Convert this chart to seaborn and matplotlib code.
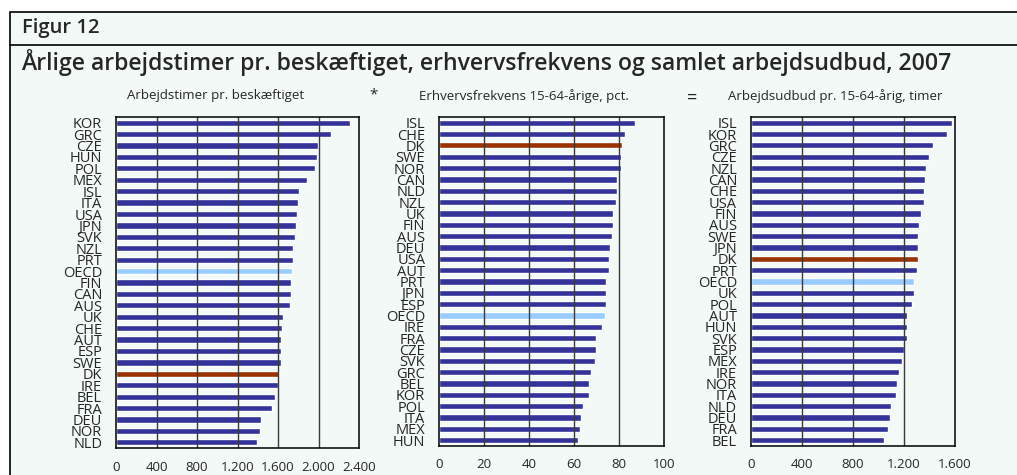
import matplotlib
matplotlib.use("Agg")
import matplotlib.pyplot as plt
import matplotlib.ticker as ticker
from matplotlib.patches import Rectangle
from matplotlib.lines import Line2D
import seaborn as sns
import pandas as pd

# data
timer_lande = ["KOR", "GRC", "CZE", "HUN", "POL", "MEX", "ISL", "ITA", "USA", "JPN",
               "SVK", "NZL", "PRT", "OECD", "FIN", "CAN", "AUS", "UK", "CHE", "AUT",
               "ESP", "SWE", "DK", "IRE", "BEL", "FRA", "DEU", "NOR", "NLD"]
timer_vaerdi = [2311, 2120, 1992, 1990, 1966, 1884, 1808, 1798, 1788, 1778,
                1769, 1749, 1749, 1739, 1729, 1729, 1719, 1650, 1640, 1630,
                1630, 1630, 1611, 1601, 1571, 1542, 1433, 1423, 1394]

erhv_lande = ["ISL", "CHE", "DK", "SWE", "NOR", "CAN", "NLD", "NZL", "UK", "FIN",
              "AUS", "DEU", "USA", "AUT", "PRT", "JPN", "ESP", "OECD", "IRE", "FRA",
              "CZE", "SVK", "GRC", "BEL", "KOR", "POL", "ITA", "MEX", "HUN"]
erhv_vaerdi = [87.1, 82.7, 81.3, 80.9, 80.9, 79.1, 79.1, 78.7, 77.3, 77.3,
               76.9, 76.0, 75.6, 75.6, 74.2, 74.2, 74.2, 73.8, 72.4, 69.8,
               69.8, 69.3, 67.6, 66.7, 66.7, 64.0, 63.1, 62.7, 61.8]

udbud_lande = ["ISL", "KOR", "GRC", "CZE", "NZL", "CAN", "CHE", "USA", "FIN", "AUS",
               "SWE", "JPN", "DK", "PRT", "OECD", "UK", "POL", "AUT", "HUN", "SVK",
               "ESP", "MEX", "IRE", "NOR", "ITA", "NLD", "DEU", "FRA", "BEL"]
udbud_vaerdi = [1576, 1537, 1427, 1396, 1373, 1365, 1357, 1357, 1333, 1318,
                1310, 1310, 1310, 1302, 1278, 1278, 1263, 1224, 1224, 1224,
                1200, 1184, 1161, 1145, 1137, 1098, 1090, 1075, 1043]

undertitler = ["Arbejdstimer pr. beskæftiget",
               "Erhvervsfrekvens 15-64-årige, pct.",
               "Arbejdsudbud pr. 15-64-årig, timer"]

BG = "#F2F9F6"
BLAA = "#333399"
DK_FARVE = "#993300"
OECD_FARVE = "#99CCFF"

sns.set_style("white")
plt.rcParams['font.family'] = ["Open Sans", "DejaVu Sans"]

fig = plt.figure(figsize=(10.17, 4.75), dpi=100)
fig.patch.set_facecolor("white")

# ramme om figuren
fig.patches.append(Rectangle((0.0098, -0.1), 1.1, 0.9747 + 0.1, transform=fig.transFigure,
                             facecolor=BG, edgecolor="black", linewidth=1.2, zorder=-10))
fig.lines.append(Line2D([0.0098, 1.0], [0.9053, 0.9053], transform=fig.transFigure,
                        color="black", linewidth=1.2))

fig.text(0.022, 0.940, "Figur 12", fontsize=14.5, fontweight="semibold", va="center")
fig.text(0.021, 0.868, "Årlige arbejdstimer pr. beskæftiget, erhvervsfrekvens og samlet arbejdsudbud, 2007",
         fontsize=16.6, fontweight="semibold", va="center")


def tusind(x, pos):
    return f"{int(x):,}".replace(",", ".")


def panel(rect, lande, vaerdi, xmax, step, fmt):
    ax = fig.add_axes(rect)
    ax.set_facecolor(BG)
    df = pd.DataFrame({"land": lande, "v": vaerdi})
    farver = {l: (DK_FARVE if l == "DK" else OECD_FARVE if l == "OECD" else BLAA) for l in lande}
    sns.barplot(data=df, x="v", y="land", hue="land", palette=farver, legend=False,
                width=0.55, saturation=1, ax=ax, zorder=2)
    ax.set_xlim(0, xmax)
    ax.set_ylim(len(lande) - 0.5, -0.5)
    ax.set_xticks(range(0, xmax + 1, step))
    ax.xaxis.set_major_formatter(ticker.FuncFormatter(fmt))
    ax.set_xlabel("")
    ax.set_ylabel("")
    # gitterlinjer ligger oven på søjlerne som i originalen
    for x in range(step, xmax, step):
        ax.axvline(x, color="#3a3a3a", linewidth=1.0, zorder=4)
    for s in ax.spines.values():
        s.set_visible(True)
        s.set_color("black")
        s.set_linewidth(1.1)
        s.set_zorder(5)
    ax.set_yticks([i - 0.5 for i in range(len(lande) + 1)], minor=True)
    ax.tick_params(axis="y", which="major", length=0, pad=10, labelsize=10.5)
    ax.tick_params(axis="y", which="minor", length=4, direction="out", width=1, color="black")
    ax.tick_params(axis="x", which="major", length=4, direction="out", width=1, color="black",
                   labelsize=9.5, pad=5)
    return ax


panel([0.1141, 0.0568, 0.2389, 0.6969], timer_lande, timer_vaerdi, 2400, 400, tusind)
panel([0.4317, 0.0611, 0.2212, 0.6926], erhv_lande, erhv_vaerdi, 100, 20,
      lambda x, p: f"{int(x)}")
panel([0.7384, 0.0611, 0.2006, 0.6926], udbud_lande, udbud_vaerdi, 1600, 400, tusind)

# undertitler, lidt forskudt til venstre som i originalen
for xc, t in zip([216 / 1017, 524 / 1017, 835 / 1017], undertitler):
    fig.text(xc, 1 - 96 / 475, t, fontsize=9.5, ha="center", va="center")

fig.text(0.367, 0.800, "*", fontsize=11, ha="center", va="center")
fig.text(0.681, 0.795, "=", fontsize=13, ha="center", va="center")

fig.savefig("out.png", dpi=100, facecolor=fig.get_facecolor())
